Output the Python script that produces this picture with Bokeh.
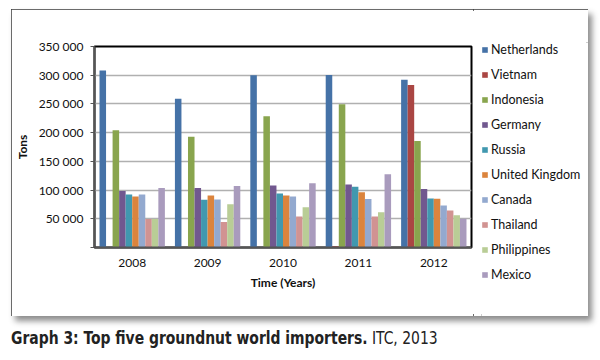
from bokeh.plotting import figure
from bokeh.models import (ColumnDataSource, FixedTicker, Legend, LegendItem, Div)
from bokeh.transform import dodge
from bokeh.layouts import column, row
from bokeh.embed import file_html
from bokeh.resources import INLINE

years = ["2008", "2009", "2010", "2011", "2012"]
countries = ["Netherlands", "Vietnam", "Indonesia", "Germany", "Russia",
             "United Kingdom", "Canada", "Thailand", "Philippines", "Mexico"]
netherlands = [308000, 259000, 300000, 300500, 292000]
vietnam = [0, 0, 800, 2000, 283000]
indonesia = [204000, 193000, 228500, 249500, 185500]
germany = [98500, 103500, 108000, 109500, 102000]
russia = [92500, 83000, 94000, 106000, 85500]
united_kingdom = [89000, 90500, 90500, 96000, 85000]
canada = [92500, 83500, 89000, 84500, 73000]
thailand = [49500, 44500, 54000, 54000, 64500]
philippines = [49500, 75500, 70000, 61500, 56000]
mexico = [103500, 107000, 112000, 127500, 50000]
ytick_values = [0, 50000, 100000, 150000, 200000, 250000, 300000, 350000]
ytick_labels = ["", "50 000", "100 000", "150 000", "200 000", "250 000", "300 000", "350 000"]

series = [netherlands, vietnam, indonesia, germany, russia,
          united_kingdom, canada, thailand, philippines, mexico]
colors = ["#4572A7", "#AA4643", "#89A54E", "#71588F", "#4198AF",
          "#DB843D", "#93A9CF", "#D19392", "#B9CD96", "#A99BBD"]

data = {"year": years}
for c, s in zip(countries, series):
    data[c] = s
source = ColumnDataSource(data)

FONT = "Lato"

p = figure(x_range=years, y_range=(0, 350000), width=462, height=307,
           output_backend="svg", toolbar_location=None,
           min_border_left=81, min_border_right=2, min_border_top=37,
           min_border_bottom=69)
p.frame_align = False

bw = 0.0867
for j, (c, col) in enumerate(zip(countries, colors)):
    p.vbar(x=dodge("year", (j - 4.5) * bw, range=p.x_range), top=c,
           width=bw, source=source, fill_color=col, line_color=None)

p.outline_line_color = "black"
p.outline_line_width = 2
p.xgrid.grid_line_color = None
p.ygrid.grid_line_color = "#b0b0b0"
p.ygrid.grid_line_width = 1.3

p.yaxis.ticker = FixedTicker(ticks=ytick_values)
p.yaxis.major_label_overrides = {v: l for v, l in zip(ytick_values, ytick_labels)}
p.yaxis.axis_label = "Tons"
p.xaxis.axis_label = "Time (Years)"
for ax in (p.xaxis[0], p.yaxis[0]):
    ax.axis_line_color = "#555555"
    ax.axis_line_width = 2
    ax.major_label_text_font = FONT
    ax.major_label_text_font_size = "12px"
    ax.major_label_text_color = "#111111"
    ax.axis_label_text_font = FONT
    ax.axis_label_text_font_size = "12px"
    ax.axis_label_text_font_style = "bold"
    ax.axis_label_text_color = "#111111"
    ax.minor_tick_line_color = None
p.yaxis.major_tick_out = 4
p.yaxis.major_tick_in = 0
p.yaxis.major_tick_line_color = "#555555"
p.yaxis.major_label_standoff = 7
p.yaxis.axis_label_standoff = 6
p.xaxis.major_tick_line_color = None
p.xaxis.major_tick_out = 4
p.xaxis.major_label_standoff = 7
p.xaxis.axis_label_standoff = 5

# legend panel: a second figure without axes; its swatches come from
# renderers whose single (hidden) bar lies outside that figure's range
lf = figure(width=115, height=307, output_backend="svg", toolbar_location=None,
            x_axis_type=None, y_axis_type=None,
            min_border_left=8, min_border_top=33, min_border_right=0,
            min_border_bottom=0, x_range=(0, 1), y_range=(0, 1))
lf.frame_align = False
lf.grid.visible = False
lf.outline_line_color = None
items = []
for c, col in zip(countries, colors):
    r = lf.vbar(x=[-10], top=[-10], width=0.1, fill_color=col, line_color=None)
    items.append(LegendItem(label=c, renderers=[r]))
legend = Legend(items=items, location="top_left", margin=0, padding=0,
                border_line_color=None, background_fill_alpha=0,
                glyph_width=7, glyph_height=7, label_height=15, spacing=10,
                label_standoff=3, label_text_font=FONT,
                label_text_font_size="12.5px", label_text_color="#111111")
lf.add_layout(legend)

box = row(p, lf, margin=(9, 0, 0, 11))
box.styles = {"outline": "2px solid #3a3a3a", "outline-offset": "-2px",
              "box-shadow": "4px 5px 6px rgba(0,0,0,0.45)", "background": "white"}

caption = Div(text="<b>Graph 3: Top five groundnut world importers.</b> ITC, 2013",
              width=577, margin=(10, 0, 0, 11),
              styles={"font-family": "'Liberation Sans Narrow', 'DejaVu Sans Condensed', 'Roboto', sans-serif",
                      "font-size": "17px", "color": "#222222", "font-stretch": "condensed",
                      "transform": "scaleX(0.91)", "transform-origin": "left center",
                      "white-space": "nowrap"})

layout = column(box, caption)
open("out.html", "w").write(file_html(layout, INLINE))
